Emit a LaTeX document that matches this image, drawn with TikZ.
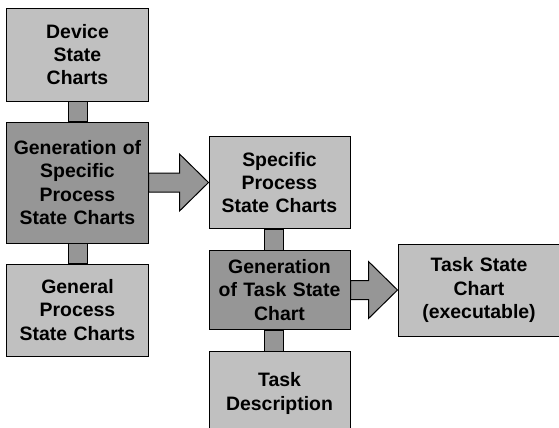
\documentclass[tikz,border=0pt]{standalone}
\usepackage{fontspec}
\setmainfont{Liberation Sans}
\usetikzlibrary{positioning, calc}
\definecolor{chartgray}{HTML}{C0C0C0}
\definecolor{stepgray}{HTML}{969696}
\tikzset{
    chart/.style={rectangle, draw=black, fill=chartgray, line width=1bp, text width=141bp, inner sep=0pt, align=center, minimum height=92bp, font=\bfseries\fontsize{19.5}{23.5}\selectfont},
    gen/.style={chart, fill=stepgray},
    link/.style={draw=black, fill=stepgray, line width=1bp},
    bigarrow/.style={draw=black, fill=stepgray, line width=1bp, line join=miter}
}
% thick block arrow from one box to the next
\newcommand{\fatarrow}[2]{%
    \draw[bigarrow] ($(#1.east)+(0,-9.5)$) -- ($(#2.west)+(-29,-9.5)$) -- ($(#2.west)+(-29,-28.5)$) -- (#2.west)
        -- ($(#2.west)+(-29,28.5)$) -- ($(#2.west)+(-29,9.5)$) -- ($(#1.east)+(0,9.5)$) -- cycle;}
% short bar joining two stacked boxes (#3 = sideways shift)
\newcommand{\linkbar}[3]{%
    \draw[link] ($(#1.south)+(#3-9.5,0)$) rectangle ($(#2.north)+(#3+9.5,0)$);}

\begin{document}
\begin{tikzpicture}[x=1bp, y=-1bp]
    \useasboundingbox (0,0) rectangle (559,427);
    \node[chart, minimum height=93bp] (device) at (77.5,54.5) {Device\\State\\Charts};
    \node[gen, minimum height=121bp, below=20bp of device] (genspec) {Generation of\\Specific\\Process\\State Charts};
    \node[chart, below=20bp of genspec] (general) {General\\Process\\State Charts};
    \node[chart, right=60bp of genspec] (specific) {Specific\\Process\\State Charts};
    \node[gen, minimum height=79bp, below=21bp of specific] (gentask) {Generation\\of Task State\\Chart};
    \node[chart, minimum height=84bp, below=21bp of gentask] (taskdesc) {Task\\Description};
    \node[chart, text width=162bp, right=47bp of gentask] (taskchart) {Task State\\Chart\\(executable)};
    \linkbar{device}{genspec}{0}
    \linkbar{genspec}{general}{0}
    \linkbar{specific}{gentask}{-6}
    \linkbar{gentask}{taskdesc}{-6}
    \fatarrow{genspec}{specific}
    \fatarrow{gentask}{taskchart}
\end{tikzpicture}
\end{document}
